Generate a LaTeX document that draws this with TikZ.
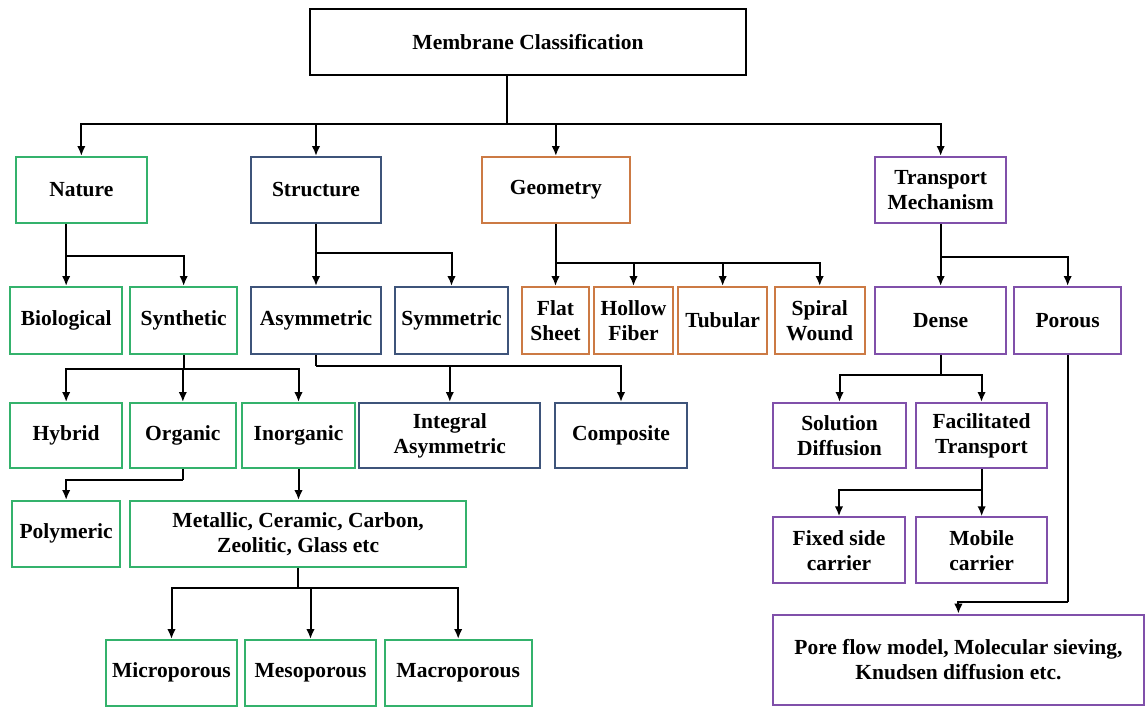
\documentclass[tikz,border=0pt]{standalone}
\usepackage{fontspec}
\setmainfont{Liberation Serif}
\usetikzlibrary{arrows.meta}
\definecolor{cgreen}{RGB}{52,178,108}
\definecolor{cblue}{RGB}{62,84,122}
\definecolor{corange}{RGB}{204,122,68}
\definecolor{cpurple}{RGB}{128,80,170}
\tikzset{
  box/.style={draw, line width=2pt, fill=white, inner sep=0pt, align=center,
    font=\fontsize{21.5}{25}\selectfont\bfseries, text=black},
  kbox/.style={box, draw=black},
  gbox/.style={box, draw=cgreen},
  bbox/.style={box, draw=cblue},
  obox/.style={box, draw=corange},
  pbox/.style={box, draw=cpurple},
  conn/.style={line width=2pt, draw=black},
  arr/.style={conn, -{Latex[length=10pt,width=8.5pt]}},
}
\newcommand\bx[7]{\node[#2, minimum width={(#5)-(#3)}, minimum height={(#6)-(#4)}] (#1) at ({((#3)+(#5))/2},{((#4)+(#6))/2}) {#7};}
\begin{document}
\begin{tikzpicture}[x=1pt,y=-1pt]
\useasboundingbox (0,0) rectangle (1145,707);
% boxes
\bx{top}{kbox}{310}{9}{746}{75}{Membrane Classification}
\bx{nature}{gbox}{15.7}{157}{147}{223}{Nature}
\bx{structure}{bbox}{250.7}{157}{381.3}{223}{Structure}
\bx{geometry}{obox}{482}{157}{629.7}{223}{Geometry}
\bx{transport}{pbox}{875}{157}{1006.3}{223}{Transport\\Mechanism}
\bx{bio}{gbox}{10}{287}{122.3}{354}{Biological}
\bx{syn}{gbox}{130}{287}{237.3}{354}{Synthetic}
\bx{asym}{bbox}{250.7}{287}{381.3}{354}{Asymmetric}
\bx{sym}{bbox}{395.3}{287}{507.7}{354}{Symmetric}
\bx{flat}{obox}{522.3}{287}{588.7}{354}{Flat\\Sheet}
\bx{hollow}{obox}{594}{287}{673}{354}{Hollow\\Fiber}
\bx{tub}{obox}{678.3}{287}{767}{354}{Tubular}
\bx{spiral}{obox}{774.7}{287}{864.7}{354}{Spiral\\Wound}
\bx{dense}{pbox}{875}{287}{1006.3}{354}{Dense}
\bx{porous}{pbox}{1014}{287}{1121.3}{354}{Porous}
\bx{hybrid}{gbox}{10}{403}{122.3}{468.3}{Hybrid}
\bx{organic}{gbox}{130}{403}{235.7}{468.3}{Organic}
\bx{inorg}{gbox}{242}{403}{355}{468.3}{Inorganic}
\bx{integral}{bbox}{359.3}{403}{540.3}{468.3}{Integral\\Asymmetric}
\bx{comp}{bbox}{554.7}{403}{687.3}{468.3}{Composite}
\bx{soldiff}{pbox}{773.3}{403}{905.7}{468.3}{Solution\\Diffusion}
\bx{facil}{pbox}{915.7}{403}{1047.3}{468.3}{Facilitated\\Transport}
\bx{poly}{gbox}{12.3}{501}{120}{566.5}{Polymeric}
\bx{metal}{gbox}{130}{501}{466.3}{566.5}{Metallic, Ceramic, Carbon,\\Zeolitic, Glass etc}
\bx{fixed}{pbox}{773.3}{517.3}{904.7}{583.3}{Fixed side\\carrier}
\bx{mobile}{pbox}{916}{517.3}{1047.3}{583.3}{Mobile\\carrier}
\bx{micro}{gbox}{105.7}{640}{237.3}{705.5}{Microporous}
\bx{meso}{gbox}{245}{640}{376}{705.5}{Mesoporous}
\bx{macro}{gbox}{384.7}{640}{531.7}{705.5}{Macroporous}
\bx{pore}{pbox}{773.3}{614.7}{1143.5}{704.7}{Pore flow model, Molecular sieving,\\Knudsen diffusion etc.}
% junction coordinates
\coordinate (j0) at (507.3,124);
\coordinate (jn) at (66.2,255.5);
\coordinate (js) at (316,253);
\coordinate (jg) at (556,262.7);
\coordinate (jt) at (940.7,256.7);
\coordinate (jsy) at (183,368.7);
\coordinate (ja) at (316,366);
\coordinate (jd) at (940.7,375.3);
\coordinate (jo) at (183,480);
\coordinate (jf) at (982,490);
\coordinate (jm) at (298.3,588.3);
\coordinate (jp) at (1067.5,602.3);
% top level
\draw[conn] (top.south -| j0) -- (j0);
\foreach \c in {nature,structure,geometry,transport} \draw[arr] (j0) -| (\c.north);
% nature
\draw[conn] (nature.south -| jn) -- (jn);
\foreach \c in {bio,syn} \draw[arr] (jn) -| (\c.north);
% structure
\draw[conn] (structure.south) -- (structure.south |- js);
\foreach \c in {asym,sym} \draw[arr] (structure.south |- js) -| (\c.north);
% geometry
\draw[conn] (geometry.south) -- (geometry.south |- jg);
\foreach \c in {flat,hollow,tub,spiral} \draw[arr] (geometry.south |- jg) -| (\c.north);
% transport
\draw[conn] (transport.south) -- (transport.south |- jt);
\foreach \c in {dense,porous} \draw[arr] (transport.south |- jt) -| (\c.north);
% synthetic
\draw[conn] (syn.south) -- (syn.south |- jsy);
\foreach \c in {hybrid,organic,inorg} \draw[arr] (syn.south |- jsy) -| (\c.north);
% asymmetric
\draw[conn] (asym.south) -- (asym.south |- ja);
\foreach \c in {integral,comp} \draw[arr] (asym.south |- ja) -| (\c.north);
% dense
\draw[conn] (dense.south) -- (dense.south |- jd);
\foreach \c in {soldiff,facil} \draw[arr] (dense.south |- jd) -| (\c.north);
% organic
\draw[conn] (organic.south) -- (organic.south |- jo);
\draw[arr] (organic.south |- jo) -| (poly.north);
% inorganic
\draw[arr] (inorg.south) -- (inorg.south |- metal.north);
% facilitated
\draw[conn] (facil.south) -- (facil.south |- jf);
\foreach \c in {fixed,mobile} \draw[arr] (facil.south |- jf) -| (\c.north);
% metallic
\draw[conn] (metal.south) -- (metal.south |- jm);
\foreach \c in {micro,meso,macro} \draw[arr] (metal.south |- jm) -| (\c.north);
% porous
\draw[conn] (porous.south) -- (porous.south |- jp);
\draw[arr] (porous.south |- jp) -| (pore.north);
\end{tikzpicture}
\end{document}
